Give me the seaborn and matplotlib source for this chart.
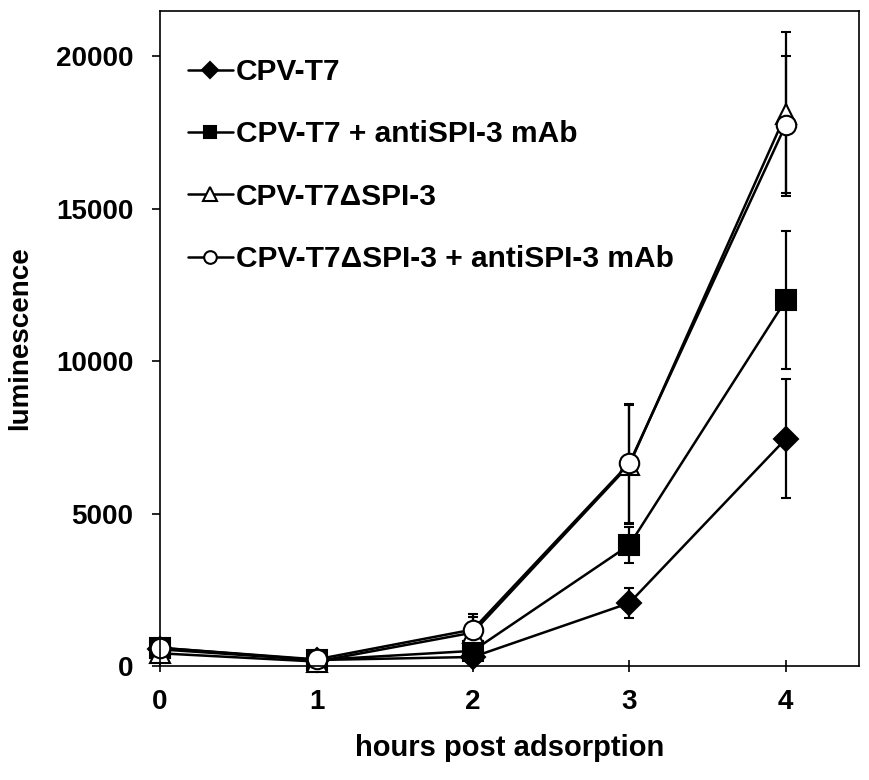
import matplotlib
matplotlib.use('Agg')
import matplotlib.pyplot as plt
import seaborn as sns

# Data
hours = [0, 1, 2, 3, 4]
labels = ['CPV-T7', 'CPV-T7 + antiSPI-3 mAb', 'CPV-T7ΔSPI-3', 'CPV-T7ΔSPI-3 + antiSPI-3 mAb']
cpv_t7 = [550, 200, 300, 2070, 7450]
cpv_t7_err = [100, 60, 80, 480, 1950]
cpv_t7_mab = [600, 200, 500, 3970, 12000]
cpv_t7_mab_err = [100, 60, 100, 600, 2250]
cpv_dspi = [420, 150, 1100, 6600, 18100]
cpv_dspi_err = [100, 60, 500, 1950, 2700]
cpv_dspi_mab = [600, 220, 1200, 6650, 17750]
cpv_dspi_mab_err = [100, 60, 500, 1950, 2250]

sns.set_style('ticks')
plt.rcParams['font.family'] = ['Liberation Sans', 'DejaVu Sans']
plt.rcParams['font.weight'] = 'bold'
plt.rcParams['text.color'] = 'black'
plt.rcParams['axes.labelcolor'] = 'black'
plt.rcParams['axes.edgecolor'] = 'black'

fig, ax = plt.subplots(figsize=(8.7, 7.8), dpi=100)
fig.subplots_adjust(left=0.184, right=0.987, bottom=0.146, top=0.986)

series = [
    (cpv_t7, cpv_t7_err, 'D', 'black', 12.5),
    (cpv_t7_mab, cpv_t7_mab_err, 's', 'black', 14),
    (cpv_dspi, cpv_dspi_err, '^', 'white', 15),
    (cpv_dspi_mab, cpv_dspi_mab_err, 'o', 'white', 14),
]
for (vals, err, mk, fc, ms), lab in zip(series, labels):
    lines = ax.errorbar(hours, vals, yerr=err, color='black', marker=mk, markersize=ms,
                        markerfacecolor=fc, markeredgecolor='black', markeredgewidth=1.5,
                        linewidth=1.8, elinewidth=1.6, capsize=3.6, capthick=1.6, label=lab)
    for art in lines.get_children():
        art.set_clip_on(False)

ax.set_xlim(0, 4.466)
ax.set_ylim(0, 21480)
ax.set_xticks(hours)
ax.set_yticks([0, 5000, 10000, 15000, 20000])
ax.tick_params(axis='both', labelsize=20, width=1.2, colors='black')
ax.tick_params(axis='x', direction='inout', length=9, pad=12)
ax.tick_params(axis='y', direction='out', length=5.8, pad=13.5)
for lab in ax.get_xticklabels() + ax.get_yticklabels():
    lab.set_fontweight('bold')
for sp in ax.spines.values():
    sp.set_linewidth(1.2)

ax.set_xlabel('hours post adsorption', fontsize=21, fontweight='bold', labelpad=14)
ax.set_ylabel('luminescence', fontsize=20, fontweight='bold', labelpad=16)

handles, hl = ax.get_legend_handles_labels()
handles = [h[0] for h in handles]
leg = ax.legend(handles, hl, loc='upper left', frameon=False, fontsize=21.5,
                handlelength=1.5, handletextpad=0.1, labelspacing=1.15,
                borderaxespad=0, borderpad=0,
                bbox_to_anchor=(0.040, 0.928), markerscale=0.65)
for t in leg.get_texts():
    t.set_fontweight('bold')

plt.savefig('out.png', dpi=100)
plt.close()
